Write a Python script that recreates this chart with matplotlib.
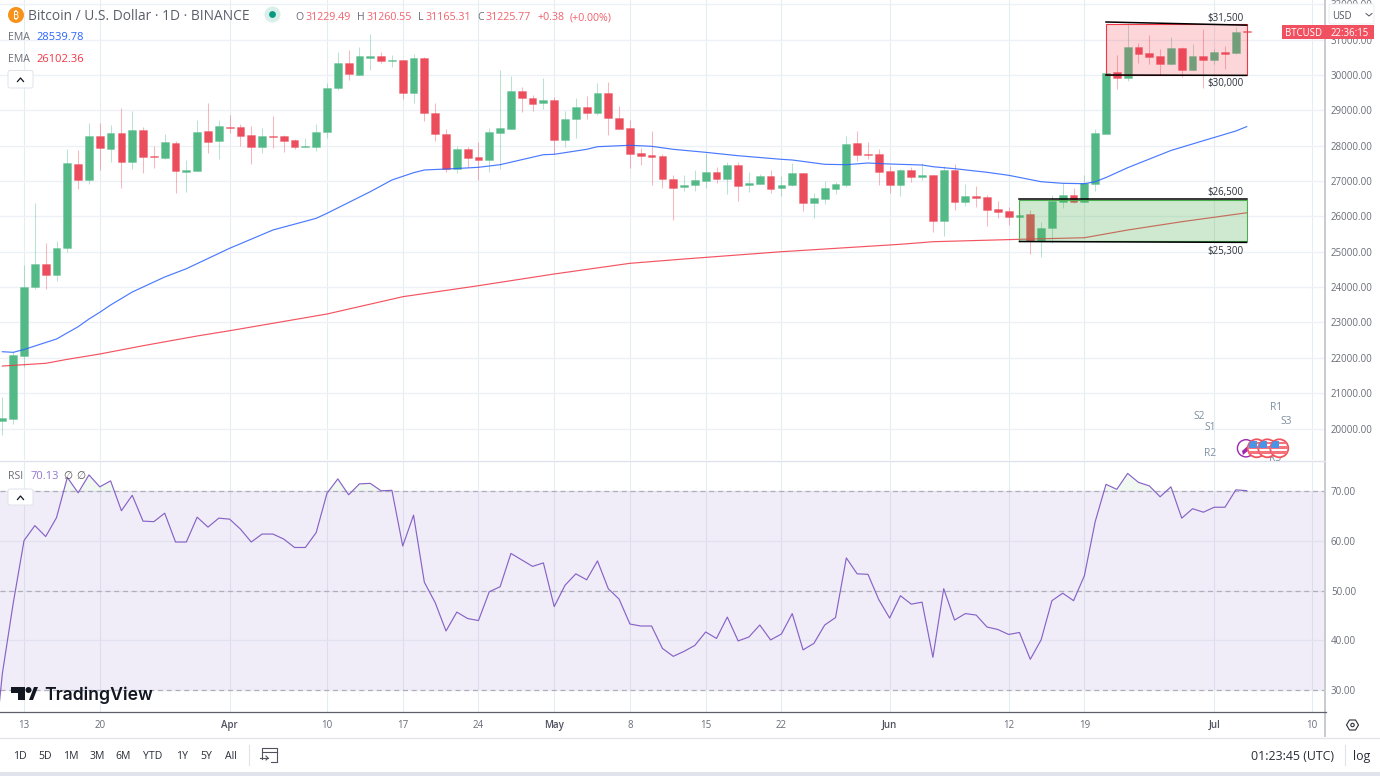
import numpy as np
import matplotlib
matplotlib.use("Agg")
import matplotlib.pyplot as plt
from matplotlib.colors import to_rgba
from matplotlib.patches import Circle, FancyBboxPatch, Polygon, Rectangle

plt.rcParams['font.family'] = ['Open Sans', 'DejaVu Sans']

# daily candles, day 0 = 11 Mar
opens = [20220, 20268, 22059, 23994, 24662, 24342, 25098, 27482, 27038, 28266, 27915, 28359,
         27530, 28444, 27709, 27652, 28077, 27256, 27293, 28408, 28125, 28529, 28529, 28303,
         27972, 28275, 28266, 28161, 27963, 27972, 28388, 29632, 30340, 30009, 30490, 30538,
         30396, 30433, 29483, 30481, 28925, 28340, 27349, 27898, 27689, 27596, 28368, 28481,
         29548, 29358, 29200, 29293, 28161, 28755, 29095, 28917, 29483, 28784, 28501, 27794,
         27729, 27709, 27058, 26823, 26888, 27002, 27248, 27058, 27463, 26888, 26917, 27143,
         26803, 26880, 27228, 26371, 26492, 26775, 26897, 28077, 27765, 27757, 27284, 26880,
         27304, 27106, 27163, 25870, 27321, 26399, 26577, 26549, 26209, 26144, 25983, 26068,
         25295, 25663, 26407, 26597, 26407, 26917, 28340, 30077, 29924, 30801, 30623, 30538,
         30311, 30764, 30150, 30538, 30433, 30642, 30623, 31229.49]
highs = [20891, 22164, 24625, 26388, 25239, 25296, 27907, 27878, 28634, 28651, 28586, 29067,
         28990, 28521, 27992, 28331, 28125, 27596, 28727, 29200, 28727, 28869, 28614, 28557,
         28501, 28840, 28303, 28198, 28210, 28614, 29765, 30659, 30708, 30801, 31160, 30659,
         30575, 30433, 30594, 30518, 29200, 28464, 27992, 27955, 28113, 28492, 30142, 29972,
         29652, 29434, 29924, 29386, 28982, 29341, 29415, 29765, 29802, 29132, 28727, 27927,
         28408, 27757, 27171, 27171, 27313, 27785, 27389, 27547, 27530, 27248, 27200, 27304,
         27143, 27502, 27228, 26670, 26993, 26982, 28274, 28425, 28105, 27898, 27426, 27332,
         27389, 27502, 27163, 27426, 27482, 26917, 26860, 26605, 26444, 26274, 26031, 26181,
         25850, 26597, 26936, 26812, 27171, 28464, 30057, 30566, 31480, 30897, 31132, 30736,
         31084, 30784, 30869, 31293, 30736, 30821, 31367, 31260.55]
lows = [19816, 20127, 21748, 23938, 23938, 24173, 25001, 26775, 26917, 27313, 27530, 26795,
        27341, 27236, 27369, 27615, 26670, 26699, 27293, 27802, 27615, 28351, 27992, 27491,
        27802, 27944, 27822, 27898, 27963, 27859, 28210, 29584, 29859, 29992, 30142, 30340,
        30235, 29330, 29200, 28707, 28125, 27265, 27219, 27389, 27030, 27265, 27341, 28481,
        28962, 28990, 29038, 27765, 27955, 28226, 28747, 28860, 28303, 28481, 27378, 27463,
        26888, 26812, 25898, 26727, 26727, 26812, 26945, 26634, 26444, 26690, 26917, 26670,
        26586, 26860, 26161, 25946, 26351, 26634, 26840, 27567, 27624, 26888, 26670, 26577,
        26982, 27030, 25567, 25454, 26181, 26294, 26274, 25729, 25963, 25757, 25850, 24936,
        24860, 25239, 26238, 26371, 26407, 26727, 28340, 29604, 29839, 30331, 30311, 30000,
        30292, 29952, 30133, 29632, 30311, 30170, 30603, 31165.31]
closes = [20305, 22079, 24011, 24662, 24342, 25106, 27511, 27038, 28274, 27935, 28359, 27530,
          28444, 27672, 27672, 28105, 27293, 27313, 28388, 28105, 28549, 28501, 28266, 27963,
          28266, 28246, 28133, 27972, 27992, 28388, 29641, 30340, 30029, 30538, 30538, 30396,
          30433, 29483, 30481, 28917, 28323, 27333, 27898, 27652, 27596, 28388, 28501, 29548,
          29341, 29188, 29293, 28161, 28764, 29095, 28917, 29483, 28775, 28481, 27774, 27709,
          27689, 27049, 26803, 26897, 27021, 27256, 27058, 27463, 26860, 26936, 27143, 26775,
          26888, 27228, 26388, 26521, 26803, 26917, 28057, 27746, 27737, 27265, 26880, 27304,
          27106, 27163, 25870, 27321, 26399, 26577, 26529, 26190, 26125, 25983, 26031, 25313,
          25672, 26444, 26597, 26407, 26945, 28359, 30057, 29924, 30801, 30603, 30518, 30311,
          30764, 30150, 30538, 30433, 30642, 30603, 31225, 31225.77]

ema_blue_days = [0, 1, 2, 5, 7, 8, 9, 10, 12, 15, 17, 21, 25, 29, 30, 34, 36, 38, 39, 42, 44, 46,
                 50, 51, 54, 55, 58, 60, 62, 65, 68, 72, 73, 76, 78, 80, 82, 85, 86, 88, 91, 93,
                 96, 98, 100, 101, 102, 104, 108, 111, 114, 115]
ema_blue = [22172, 22155, 22235, 22532, 22880, 23097, 23287, 23494, 23861, 24286, 24520, 25098,
            25615, 25946, 26088, 26699, 27030, 27236, 27313, 27355, 27389, 27463, 27746, 27757,
            27898, 27972, 28012, 27983, 27898, 27813, 27717, 27615, 27596, 27474, 27463, 27511,
            27482, 27454, 27406, 27350, 27248, 27163, 26982, 26936, 26925, 26982, 27100, 27378,
            27865, 28142, 28416, 28539.78]
ema_red_days = [0, 4, 6, 9, 13, 18, 21, 30, 37, 44, 51, 58, 63, 72, 83, 86, 94, 100, 104, 109, 115]
ema_red = [21768, 21844, 21957, 22107, 22342, 22617, 22766, 23239, 23728, 24040, 24371, 24673,
           24795, 25001, 25211, 25284, 25352, 25397, 25615, 25850, 26102.36]

# starts one day before the first visible candle
rsi = [12, 33.4, 47.5, 60.1, 63.1, 60.9, 64.7, 72.8, 69.7, 73.3, 70.9, 72.1, 66.1, 69.2, 64.0, 63.9,
       65.6, 59.8, 59.8, 64.8, 62.8, 64.6, 64.4, 62.4, 59.8, 61.4, 61.4, 60.4, 58.7, 58.7, 61.7,
       69.6, 72.5, 69.3, 71.5, 71.6, 70.1, 70.2, 59.0, 65.2, 51.7, 47.6, 41.9, 45.7, 44.4, 44.0,
       49.8, 50.8, 57.5, 56.2, 54.9, 55.6, 46.8, 51.1, 53.4, 52.2, 56.0, 50.4, 48.3, 43.3, 42.9,
       42.9, 38.4, 36.8, 37.8, 39.0, 41.7, 40.4, 44.7, 39.9, 40.7, 43.1, 40.1, 41.3, 45.4, 38.1,
       39.4, 43.1, 44.6, 56.6, 53.4, 53.3, 48.2, 44.5, 49.0, 47.3, 47.7, 36.6, 50.4, 44.1, 45.4,
       45.1, 42.7, 42.2, 41.2, 41.6, 36.2, 40.1, 48.0, 49.5, 48.0, 53.0, 63.9, 71.4, 70.4, 73.6,
       71.8, 71.1, 68.9, 70.9, 64.6, 66.5, 65.8, 66.8, 66.8, 70.3, 70.13]

tick_days = [2, 9, 21, 30, 37, 44, 51, 58, 65, 72, 82, 93, 100, 112, 121]
tick_labels = ['13', '20', 'Apr', '10', '17', '24', 'May', '8', '15', '22', 'Jun', '12', '19', 'Jul', '10']
price_ticks = np.arange(20000, 33000, 1000)
rsi_ticks = [30, 40, 50, 60, 70]
ranges = ['1D', '5D', '1M', '3M', '6M', 'YTD', '1Y', '5Y', 'All']

GREEN = '#53b987'
RED = '#eb4d5c'
GRID = '#edf1f6'
TEXT = '#6a6d78'
W, H = 1380, 776


def pane(x0, y0, x1, y1):
    return fig.add_axes([x0 / W, 1 - y1 / H, (x1 - x0) / W, (y1 - y0) / H])


fig = plt.figure(figsize=(13.8, 7.76), dpi=100, facecolor='white')
xlim = (-0.222, 122.24)

# price pane
ax = pane(0, 0, 1325, 460)
ax.set_xlim(xlim)
ax.set_ylim(19109, 32122)
days = np.arange(len(opens))
opens_a, closes_a = np.array(opens), np.array(closes)
colors = [GREEN if c >= o else RED for o, c in zip(opens, closes)]
ax.vlines(days, lows, highs, colors=colors, linewidth=0.75, alpha=0.4, zorder=2)
ax.bar(days, np.maximum(np.abs(closes_a - opens_a), 28), bottom=np.minimum(opens_a, closes_a),
       width=0.72, color=colors, edgecolor=[to_rgba(c, 0.45) for c in colors], linewidth=0.5, zorder=3)
ax.plot(ema_blue_days, ema_blue, color='#2962ff', lw=0.85, alpha=0.85, zorder=4)
ax.plot(ema_red_days, ema_red, color='#f23645', lw=0.85, alpha=0.85, zorder=4)

ax.add_patch(Rectangle((94, 25300), 21, 1170, facecolor=to_rgba('#4caf50', 0.27),
                       edgecolor='#4caf50', linewidth=0.8, zorder=5))
ax.add_patch(Rectangle((102, 30000), 13, 1440, facecolor=to_rgba('#f23645', 0.2),
                       edgecolor='#f23645', linewidth=0.8, zorder=5))
ax.plot([102, 115], [31500, 31410], color='black', lw=1.1, zorder=6)
ax.plot([102, 115], [30000, 29990], color='black', lw=1.1, zorder=6)
ax.plot([94, 115], [26500, 26500], color='black', lw=1.1, zorder=6)
ax.plot([94, 115], [25290, 25265], color='black', lw=1.1, zorder=6)
for lab_price, lab in [(31650, '$31,500'), (29790, '$30,000'), (26720, '$26,500'), (25050, '$25,300')]:
    ax.text(113, lab_price, lab, fontsize=7, color='#2a2e39', ha='center', va='center_baseline', zorder=6)

# RSI pane
ax2 = pane(0, 461, 1325, 712)
ax2.set_xlim(xlim)
ax2.set_ylim(25.6, 76.1)
rsi_days = np.arange(-1, len(opens))
rsi_a = np.array(rsi)
ax2.axhspan(30, 70, color='#7e57c2', alpha=0.1, lw=0, zorder=1)
ax2.fill_between(rsi_days, 70, rsi_a, where=rsi_a > 70, interpolate=True, color='#4caf50', alpha=0.08, lw=0, zorder=1)
for level in [30, 50, 70]:
    ax2.axhline(level, color='#b0aebb', lw=0.9, dashes=(4, 3), zorder=2)
ax2.plot(rsi_days, rsi, color='#7e57c2', lw=0.85, alpha=0.92, zorder=3)

for a, ticks in [(ax, price_ticks), (ax2, rsi_ticks)]:
    a.set_yticks(ticks)
    a.set_yticklabels([f'{t:.2f}' for t in ticks], fontsize=7, color=TEXT)
    a.yaxis.tick_right()
    a.tick_params(axis='both', length=0)
    a.tick_params(axis='y', pad=4.3)
    a.set_xticks(tick_days)
    a.grid(True, color=GRID, lw=1.0, zorder=0)
    a.xaxis.grid(True, color='#e6edf2', lw=0.8)
    a.set_axisbelow(True)
    for s in a.spines.values():
        s.set_visible(False)
ax.set_xticklabels([])
ax2.set_xticklabels(tick_labels, fontsize=7, color=TEXT)
ax2.tick_params(axis='x', pad=6)
for t, lab in zip(ax2.get_xticklabels(), tick_labels):
    if lab.isalpha():
        t.set_color('#4e5160')
        t.set_fontweight('semibold')

# chrome drawn in screen pixels
ui = fig.add_axes([0, 0, 1, 1], zorder=10)
ui.set_xlim(0, W)
ui.set_ylim(H, 0)
ui.axis('off')
ui.patch.set_alpha(0)


def label(x, y, s, size=7, color=TEXT, **kw):
    kw.setdefault('va', 'center_baseline')
    ui.text(x, y, s, fontsize=size, color=color, **kw)


def box(x0, y0, x1, y1, face='white', edge='#e0e3eb', r=2):
    ui.add_patch(FancyBboxPatch((x0 + r, y0 + r), x1 - x0 - 2 * r, y1 - y0 - 2 * r,
                                boxstyle=f'round,pad={r},rounding_size={r}', facecolor=face,
                                edgecolor=edge, linewidth=0.7))


def caret(cx, cy):
    ui.plot([cx - 3, cx, cx + 3], [cy + 2, cy - 1.5, cy + 2], color='#131722', lw=0.9)


# axis separators and bottom bar
ui.add_patch(Rectangle((1324, 0), 2, 737, color='#c9cbd1', lw=0))
ui.plot([0, 1326], [712, 712], color='#5d606b', lw=0.9)
ui.plot([0, 1325], [460.5, 460.5], color='#e0e3eb', lw=1)
ui.plot([0, W], [737.5, 737.5], color='#e0e3eb', lw=0.9)
ui.add_patch(Rectangle((0, 772), W, 4, color='#e0e3eb', lw=0))

# header
ui.add_patch(Circle((16, 15), 8, color='#f7931a', lw=0))
label(16, 15, '₿', size=7.5, color='white', ha='center', fontweight='bold',
      family=['Noto Sans', 'Roboto', 'Inter', 'Lato', 'Liberation Sans', 'DejaVu Sans'])
label(28, 15, 'Bitcoin / U.S. Dollar · 1D · BINANCE', size=9.95, color='#5b5e69')
ui.add_patch(Circle((272.5, 14.5), 8, color='#d9efe9', lw=0))
ui.add_patch(Circle((272.5, 14.5), 3.4, color='#089981', lw=0))
for x, s in [(295.7, 'O'), (356.7, 'H'), (418, 'L'), (477, 'C')]:
    label(x, 16, s, size=7.6)
for x, s in [(305, '31229.49'), (366, '31260.55'), (425, '31165.31'), (485.3, '31225.77'),
             (537.7, '+0.38'), (570, '(+0.00%)')]:
    label(x, 16, s, size=7.7, color='#f0616d')
label(8, 36, 'EMA', size=7.6)
label(36, 36, '28539.78', size=8, color='#2962ff')
label(8, 58, 'EMA', size=7.6)
label(36, 58, '26102.36', size=8, color='#f23645')
box(8, 70.5, 33, 88)
caret(20.5, 79.5)
label(8, 475, 'RSI', size=7.6)
label(31, 475, '70.13', size=8, color='#9575cd')
label(68, 475, '∅', size=7.6, color='#555', ha='center')
label(81, 475, '∅', size=7.6, color='#555', ha='center')
box(8, 489, 33, 505)
caret(20.5, 497.5)

# price axis tags
box(1329, 4, 1374, 24, edge='#eceef2')
label(1332, 15, 'USD', size=7, color='#50535e')
ui.plot([1366, 1369, 1372], [13.5, 16, 13.5], color='#50535e', lw=0.7)
ui.add_patch(Rectangle((1282, 25), 43, 14, color='#f0505f', lw=0))
ui.add_patch(Rectangle((1325, 25), 49, 14, color='#f0505f', lw=0))
label(1303.5, 32.3, 'BTCUSD', size=6.9, color='white', ha='center')
label(1349.5, 32.3, '22:36:15', size=6.9, color='white', ha='center')

# pivot labels and event icons
for x, y, s in [(1199, 415, 'S2'), (1210, 426.5, 'S1'), (1210, 452, 'R2'), (1276, 406, 'R1'), (1286, 420, 'S3')]:
    label(x, y, s, size=7.4, color='#7d8fa0', ha='center')
label(1275.5, 457, 'R3', size=7.4, color='#7d8fa0', ha='center')
ui.add_patch(Circle((1246, 448.3), 8.6, facecolor='white', edgecolor='#9c27b0', lw=1))
ui.add_patch(Polygon([[1242, 451], [1250, 444], [1247, 449], [1250, 449], [1243, 455]], color='#9c27b0', lw=0))
for n, cx in enumerate((1256.7, 1267.3, 1279.3)):
    z = 3 + 3 * n
    edge = Circle((cx, 448.3), 9, facecolor='white', edgecolor='#f2545f', lw=1.3, zorder=z)
    ui.add_patch(edge)
    for sy in (441.5, 446.3, 451.1):
        stripe = Rectangle((cx - 9, sy), 18, 2.4, color='#f5737d', lw=0, zorder=z + 1)
        ui.add_patch(stripe)
        stripe.set_clip_path(edge)
    canton = Rectangle((cx - 8, 441), 8, 7, color='#4b93e6', lw=0, zorder=z + 2)
    ui.add_patch(canton)
    canton.set_clip_path(edge)

# logo
ui.add_patch(Polygon([[11, 687], [25, 687], [25, 700], [18, 700], [18, 693], [11, 693]], color='#131722', lw=0))
ui.add_patch(Circle((28.5, 690), 3, color='#131722', lw=0))
ui.add_patch(Polygon([[29, 700], [34, 687], [38, 687], [33, 700]], color='#131722', lw=0))
label(44, 693.5, 'TradingView', size=12.7, color='#131722', family=['Inter'], fontweight='semibold')

# bottom toolbar
for x, s in zip([20, 45, 71, 97, 123, 153, 182, 206, 231], ranges):
    label(x, 755, s, size=7.6, color='#2a2e39', ha='center')
ui.plot([248.5, 248.5], [745, 765], color='#e0e3eb', lw=0.8)
ui.plot([262, 262, 277, 277, 271], [759, 748, 748, 762, 762], color='#50535e', lw=0.8)
ui.plot([262, 277], [751.5, 751.5], color='#50535e', lw=0.8)
ui.plot([260, 268], [758, 758], color='#50535e', lw=0.8)
ui.plot([266, 268, 266], [756, 758, 760], color='#50535e', lw=0.8)
label(1251, 755, '01:23:45 (UTC)', size=8.9, color='#2a2e39')
ui.plot([1345, 1345], [745, 765], color='#e0e3eb', lw=0.8)
label(1362, 755, 'log', size=8.9, color='#2a2e39', ha='center')

# settings icon
hx, hy = 1352.5, 725
ui.add_patch(Polygon([[hx - 6, hy], [hx - 3, hy - 5], [hx + 3, hy - 5], [hx + 6, hy], [hx + 3, hy + 5], [hx - 3, hy + 5]],
                     fill=False, edgecolor='#2a2e39', lw=0.8))
ui.add_patch(Circle((hx, hy), 1.7, fill=False, edgecolor='#2a2e39', lw=0.8))

fig.savefig('out.png', dpi=100)
